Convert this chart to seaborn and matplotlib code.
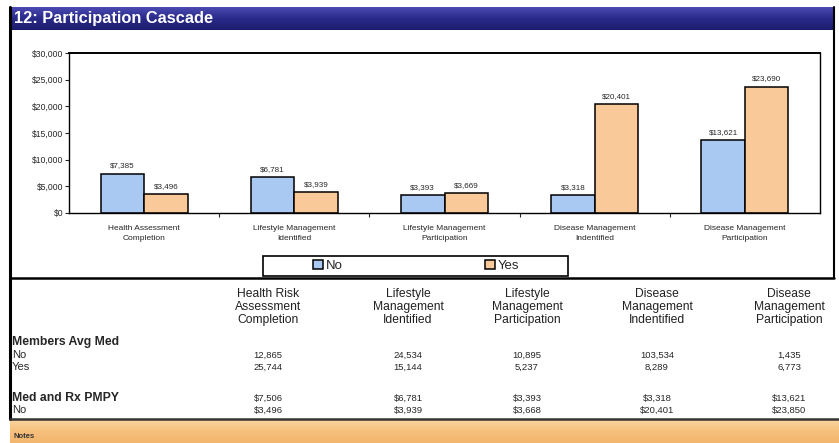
import matplotlib
matplotlib.use("Agg")
import matplotlib.pyplot as plt
import seaborn as sns
import numpy as np
import pandas as pd
from matplotlib.patches import Rectangle
from matplotlib.lines import Line2D
from matplotlib.ticker import FuncFormatter, FixedLocator
from matplotlib.colors import LinearSegmentedColormap

# ---------------- data ----------------
categories = ["Health Assessment\nCompletion", "Lifestyle Management\nIdentified",
              "Lifestyle Management\nParticipation", "Disease Management\nIndentified",
              "Disease Management\nParticipation"]
series_names = ["No", "Yes"]
pmpy_no = [7385, 6781, 3393, 3318, 13621]
pmpy_yes = [3496, 3939, 3669, 20401, 23690]

table_headers = ["Health Risk\nAssessment\nCompletion", "Lifestyle\nManagement\nIdentified",
                 "Lifestyle\nManagement\nParticipation", "Disease\nManagement\nIndentified",
                 "Disease\nManagement\nParticipation"]
members_no = [12865, 24534, 10895, 103534, 1435]
members_yes = [25744, 15144, 5237, 8289, 6773]
pmpy_table_top = [7506, 6781, 3393, 3318, 13621]
pmpy_table_bottom = [3496, 3939, 3668, 20401, 23850]
y_ticks = [0, 5000, 10000, 15000, 20000, 25000, 30000]

# ---------------- style ----------------
sns.set_theme(style="white")
plt.rcParams['font.family'] = ['Liberation Sans', 'DejaVu Sans']

W, H = 839, 443
fig = plt.figure(figsize=(W / 100, H / 100), dpi=100)
fig.patch.set_facecolor("white")

def fx(x):
    return x / W

def fy(y):
    return 1 - y / H

grad = np.linspace(0, 1, 50).reshape(-1, 1)

# title bar gradient
tax = fig.add_axes([fx(10), fy(30), fx(835) - fx(10), fy(7) - fy(30)])
cm_title = LinearSegmentedColormap.from_list("t", ["#4a4ab2", "#2a2a8a", "#1c1c6e"])
tax.imshow(grad, aspect="auto", cmap=cm_title, extent=[0, 1, 0, 1])
tax.set_axis_off()
tax.text(0.005, 0.5, "12: Participation Cascade", color="white", fontsize=11.8,
         fontweight="bold", va="center", ha="left", transform=tax.transAxes)

# bottom orange band
bax = fig.add_axes([fx(10), 0, fx(839) - fx(10), fy(419)])
cm_band = LinearSegmentedColormap.from_list("b", ["#fbd6a0", "#f6c07c", "#f3b66e"])
bax.imshow(grad, aspect="auto", cmap=cm_band, extent=[0, 1, 0, 1])
bax.set_axis_off()
bax.text(0.004, 0.25, "Notes", fontsize=5.5, color="#333333", fontweight="bold",
         transform=bax.transAxes, va="center")

# ---------------- chart ----------------
df = pd.DataFrame({
    "Category": categories * 2,
    "Series": [series_names[0]] * len(categories) + [series_names[1]] * len(categories),
    "Value": pmpy_no + pmpy_yes,
})

ax = fig.add_axes([fx(69), fy(213), fx(820) - fx(69), fy(53) - fy(213)])
palette = {"No": "#a9c9f2", "Yes": "#f9c999"}
sns.barplot(data=df, x="Category", y="Value", hue="Series", palette=palette,
            width=0.58, edgecolor="black", linewidth=1.1, ax=ax, saturation=1)

ax.set_ylim(0, 30000)
ax.set_xlim(-0.5, len(categories) - 0.5)
ax.yaxis.set_major_locator(FixedLocator(y_ticks))
ax.yaxis.set_major_formatter(FuncFormatter(lambda v, p: f"${v:,.0f}"))
ax.tick_params(axis="y", labelsize=6.2, length=3, width=0.8, pad=1, left=True, direction="out")
ax.tick_params(axis="x", labelsize=6, length=0, pad=9)
for lab in ax.get_xticklabels():
    lab.set_linespacing(1.45)
ax.xaxis.set_minor_locator(FixedLocator(np.arange(0.5, len(categories) - 0.5, 1)))
ax.tick_params(axis="x", which="minor", length=3, width=0.8, bottom=True, direction="out")
ax.set_xlabel("")
ax.set_ylabel("")
for s in ax.spines.values():
    s.set_visible(True)
    s.set_color("black")
    s.set_linewidth(1.0)
ax.spines["top"].set_linewidth(1.4)

for cont in ax.containers:
    ax.bar_label(cont, labels=[f"${v:,.0f}" for v in cont.datavalues],
                 fontsize=5.8, padding=3)

# legend: frame drawn separately (behind), entries spaced like the reference
fig.add_artist(Rectangle((fx(263), fy(276)), fx(568) - fx(263), fy(256) - fy(276),
                         transform=fig.transFigure, facecolor="white",
                         edgecolor="black", linewidth=1.2, zorder=-1))
handles, labels = ax.get_legend_handles_labels()
leg = ax.legend(handles, labels, loc="center", bbox_to_anchor=(fx(416), fy(266)),
                bbox_transform=fig.transFigure, ncol=2, fontsize=9.5,
                frameon=False, handlelength=0.75, handleheight=0.75,
                handletextpad=0.2, columnspacing=10.8, borderpad=0.1)
leg.set_zorder(10)

# ---------------- frame lines ----------------
def hline(y, x0=10, x1=834, lw=1.5, color="black"):
    fig.add_artist(Line2D([fx(x0), fx(x1)], [fy(y), fy(y)], color=color, lw=lw,
                          transform=fig.transFigure))

def vline(x, y0, y1, lw=1.5, color="black"):
    fig.add_artist(Line2D([fx(x), fx(x)], [fy(y0), fy(y1)], color=color, lw=lw,
                          transform=fig.transFigure))

vline(10, 7, 419, lw=2.2)
vline(834, 7, 278, lw=1.5)
hline(278, lw=1.8)
hline(419, x0=10, x1=839, lw=1.8, color="#333333")

# ---------------- table ----------------
col_x = [268, 408, 527, 657, 789]
for xc, h in zip(col_x, table_headers):
    fig.text(fx(xc), fy(288), h, ha="center", va="top", fontsize=8.7,
             linespacing=1.1, color="#222222")

row_x = 12
fig.text(fx(row_x), fy(342), "Members Avg Med", fontsize=8.8, fontweight="bold", va="center")
fig.text(fx(row_x), fy(355), "No", fontsize=8, va="center")
fig.text(fx(row_x), fy(367), "Yes", fontsize=8, va="center")
fig.text(fx(row_x), fy(398), "Med and Rx PMPY", fontsize=8.8, fontweight="bold", va="center")
fig.text(fx(row_x), fy(410), "No", fontsize=8, va="center")

for xc, a, b, c, d in zip(col_x, members_no, members_yes, pmpy_table_top, pmpy_table_bottom):
    fig.text(fx(xc), fy(355), f"{a:,}", ha="center", va="center", fontsize=6.8)
    fig.text(fx(xc), fy(367), f"{b:,}", ha="center", va="center", fontsize=6.8)
    fig.text(fx(xc), fy(398), f"${c:,}", ha="center", va="center", fontsize=6.8)
    fig.text(fx(xc), fy(410), f"${d:,}", ha="center", va="center", fontsize=6.8)

fig.savefig("out.png", dpi=100)
